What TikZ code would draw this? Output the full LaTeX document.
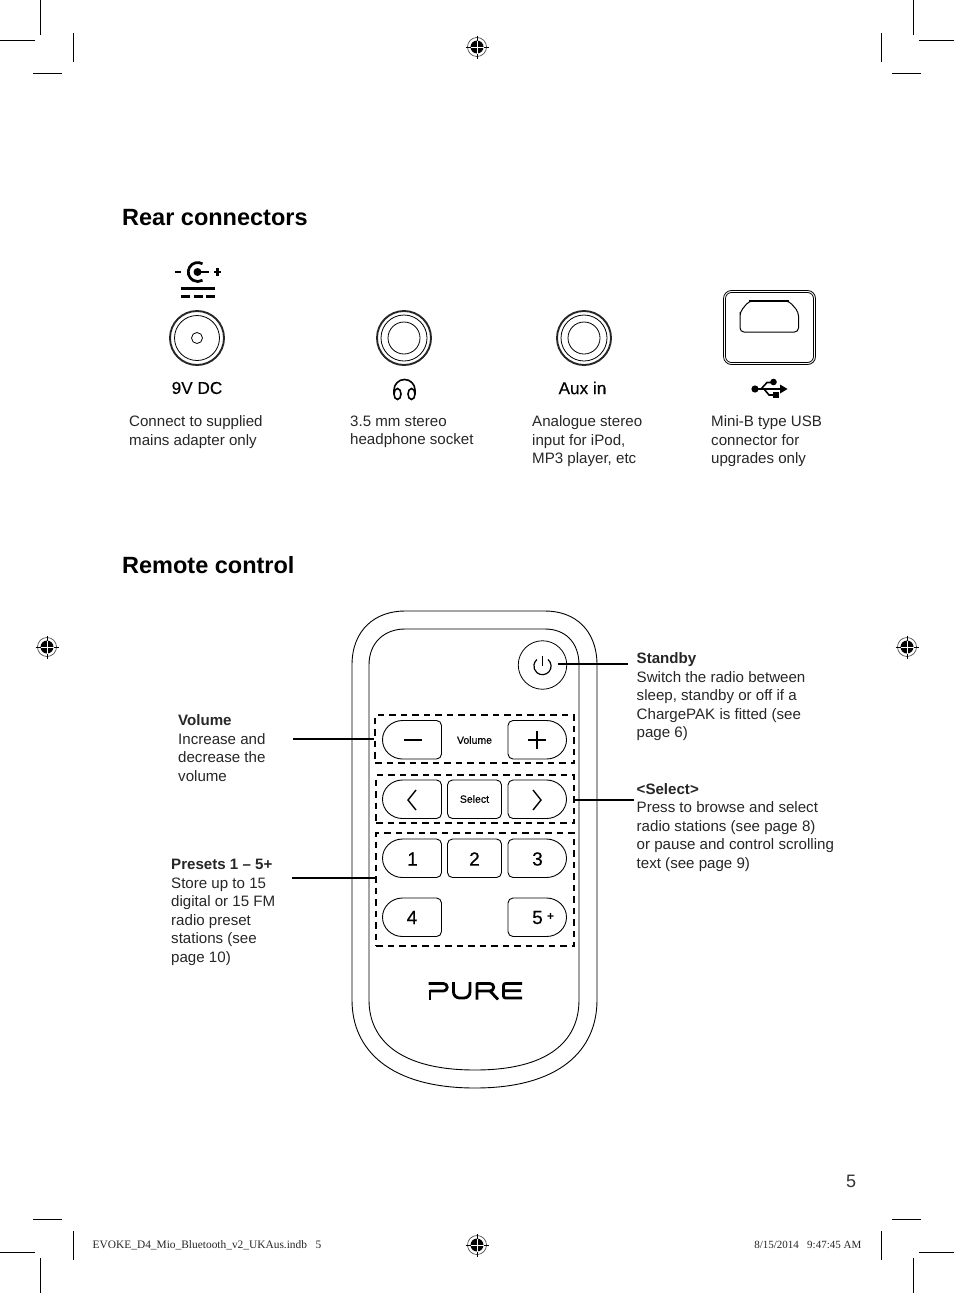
\documentclass[tikz,border=0pt]{standalone}
\usepackage{fontspec}
\setmainfont{Liberation Sans}
\newfontfamily\serifcrop{Liberation Serif}
\tikzset{
  crop/.style={line width=1pt,black},
  body/.style={anchor=north west,align=left,inner sep=0pt,font=\fontsize{15.1}{18.5}\selectfont,text=black!85},
  head/.style={anchor=base west,inner sep=0pt,font=\fontsize{23.5}{27}\selectfont\bfseries},
  iconlab/.style={anchor=center,inner sep=0pt,font=\fontsize{17.2}{20}\selectfont\addfontfeature{FakeBold=0.25}},
  slug/.style={inner sep=0pt,text=black!85},
  thinl/.style={line width=0.8pt},
  leader/.style={line width=2.8pt},
  dbox/.style={line width=1.4pt,dash pattern=on 6.5pt off 5pt},
  btn/.style={line width=0.9pt},
  btnlab/.style={inner sep=0pt,font=\fontsize{19}{20}\selectfont\addfontfeature{FakeBold=0.5}},
  btnsm/.style={inner sep=0pt,font=\fontsize{10.5}{12}\selectfont\addfontfeature{FakeBold=0.5}},
  logo/.style={line width=2.8pt,line cap=butt,line join=round},
  dcl/.style={line width=2.7pt},
  glyph/.style={line width=1.2pt},
  pics/regmark/.style={code={
    \draw[line width=0.7pt,black!70] (0,0) circle (9.5);
    \fill[black] (0,0) circle (6.5);
    \draw[line width=0.9pt,white] (-6.5,0)--(6.5,0) (0,-6.5)--(0,6.5);
    \draw[line width=0.8pt,black] (-11.5,0)--(-6.5,0) (6.5,0)--(11.5,0) (0,-11.5)--(0,-6.5) (0,6.5)--(0,11.5);
  }}
}
% y axis points down, so arc angles run clockwise on the page
\newcommand{\leftbtn}[4]{%
  \draw[btn] (#1+20,#3) -- (#2-5,#3) arc[start angle=-90,end angle=0,radius=5] -- (#2,#4-5)
     arc[start angle=0,end angle=90,radius=5] -- (#1+20,#4)
     arc[start angle=90,end angle=270,x radius=20,y radius=19.25] -- cycle;}
\newcommand{\rightbtn}[4]{%
  \draw[btn] (#1+5,#3) -- (#2-20,#3) arc[start angle=-90,end angle=90,x radius=20,y radius=19.25]
     -- (#1+5,#4) arc[start angle=90,end angle=180,radius=5] -- (#1,#3+5)
     arc[start angle=180,end angle=270,radius=5] -- cycle;}
\begin{document}
\begin{tikzpicture}[x=1pt,y=-1pt]
\useasboundingbox (0,0) rectangle (954,1293);
% crop marks
\draw[crop] (40.5,0)--(40.5,35) (0,40.5)--(35,40.5) (73.5,33)--(73.5,62) (33,73.5)--(62,73.5);
\draw[crop] (913.5,0)--(913.5,35) (954,40.5)--(919,40.5) (881.5,33)--(881.5,62) (921,73.5)--(892,73.5);
\draw[crop] (33,1219.5)--(62,1219.5) (73.5,1231)--(73.5,1260) (0,1252.5)--(35,1252.5) (40.5,1258)--(40.5,1293);
\draw[crop] (921,1219.5)--(892,1219.5) (881.5,1231)--(881.5,1260) (954,1252.5)--(919,1252.5) (913.5,1258)--(913.5,1293);
\pic at (477,47) {regmark};
\pic at (47,647) {regmark};
\pic at (907,647) {regmark};
\pic at (477,1245) {regmark};
% headings
\node[head] (h1) at (122,225) {Rear connectors};
\node[head] (h2) at (122,573) {Remote control};
% DC icon
\draw[dcl] (175,272)--(181,272) (214,272)--(221,272) (217.5,268)--(217.5,276);
\fill (197.5,272) circle (4);
\draw[dcl] (197.5,272)--(209,272);
\draw[dcl] (202.5,263.8) arc[start angle=-60,end angle=-300,radius=9.5];
\draw[line width=3pt] (181,288)--(215,288);
\draw[line width=3pt] (181,296)--(190,296) (193.5,296)--(203,296) (206,296)--(215,296);
% jacks
\draw[line width=1.9pt,black!85] (197,338) circle (27);
\draw[thinl] (197,338) circle (22.5);
\draw[thinl] (197,338) circle (5.5);
\node[iconlab] (l1) at (197,388) {9V DC};
\draw[line width=1.9pt,black!85] (404,338) circle (27);
\draw[thinl] (404,338) circle (23);
\draw[thinl] (404,338) circle (16);
\draw[line width=1.6pt] (394,394) -- (394,390) arc[start angle=180,end angle=360,radius=10.5] -- (415,394);
\draw[line width=1.6pt] (397.5,394) circle[x radius=3.5,y radius=5.5];
\draw[line width=1.6pt] (411.5,394) circle[x radius=3.5,y radius=5.5];
\draw[line width=1.9pt,black!85] (584,338) circle (27);
\draw[thinl] (584,338) circle (23);
\draw[thinl] (584,338) circle (16);
\node[iconlab] (l3) at (582.5,388) {Aux in};
% usb port
\draw[thinl,rounded corners=8pt] (723.5,290.5) rectangle (815.5,364.5);
\draw[thinl,rounded corners=6pt] (725.5,292.5) rectangle (813.5,362.5);
\draw[line width=1pt,rounded corners=4pt] (740,316) -- (740,312) -- (749,301) -- (789,301) -- (798.5,312) -- (798.5,332) -- (740,332) -- cycle;
\draw[line width=1.6pt] (749,301)--(789,301);
% usb icon
\fill (755,389) circle (3.6);
\draw[line width=1.8pt] (755,389)--(781,389);
\fill (780,384.5)--(787.5,389)--(780,393.5)--cycle;
\draw[line width=1.6pt] (761,389)--(767,382.5)--(773,382.5);
\fill (773.5,382) circle (3.3);
\draw[line width=1.6pt] (764,389)--(769,395)--(774,395);
\fill (773,392) rectangle (778.5,398);
% descriptions
\node[body] (d1) at (129,415.5) {Connect to supplied\\mains adapter only};
\node[body] (d2) at (350,415.5) {3.5 mm stereo\\headphone socket};
\node[body] (d3) at (532,415.5) {Analogue stereo\\input for iPod,\\MP3 player, etc};
\node[body] (d4) at (711,415.5) {Mini-B type USB\\connector for\\upgrades only};
% remote
\draw[line width=0.9pt] (352,665) .. controls (352,630) and (375,611) .. (405,611) -- (545,611)
  .. controls (575,611) and (597,630) .. (597,665) -- (597,1000)
  .. controls (597,1050) and (560,1088) .. (475,1088)
  .. controls (390,1088) and (352,1050) .. (352,1000) -- cycle;
\draw[line width=0.9pt] (369,665) .. controls (369,642) and (385,629) .. (405,629) -- (545,629)
  .. controls (565,629) and (579,642) .. (579,665) -- (579,1000)
  .. controls (579,1040) and (550,1070) .. (475,1070)
  .. controls (400,1070) and (369,1040) .. (369,1000) -- cycle;
% power
\node[circle,draw,line width=0.8pt,minimum size=48.5pt,inner sep=0pt] (pw) at (542.5,665) {};
\draw[glyph] (548,659.5) arc[start angle=-50,end angle=230,radius=8.6];
\draw[glyph] (542.5,655.5)--(542.5,666);
% dashed
\node[draw,dbox,inner sep=0pt,minimum width=199pt,minimum height=48pt] (bv) at (474.5,739) {};
\node[draw,dbox,inner sep=0pt,minimum width=198pt,minimum height=48pt] (bs) at (475,799) {};
\node[draw,dbox,inner sep=0pt,minimum width=198pt,minimum height=113pt] (bp) at (475,889.5) {};
% buttons
\leftbtn{382.5}{441.5}{720.5}{759}
\rightbtn{508}{566.5}{720.5}{759}
\leftbtn{382.5}{441.5}{780}{818.5}
\rightbtn{508}{566.5}{780}{818.5}
\draw[btn,rounded corners=5pt] (447.5,780) rectangle (501.5,818.5);
\leftbtn{382.5}{441.5}{839}{877.5}
\draw[btn,rounded corners=5pt] (447.5,839) rectangle (501.5,877.5);
\rightbtn{508}{566.5}{839}{877.5}
\leftbtn{382.5}{441.5}{898}{936.5}
\rightbtn{508}{566.5}{898}{936.5}
\draw[glyph] (403.5,740)--(421.5,740);
\draw[glyph] (528,740)--(546,740) (537,731)--(537,749);
\draw[line width=1.4pt] (416,790)--(408,800)--(416,810);
\draw[line width=1.4pt] (533,790)--(541,800)--(533,810);
\node[btnsm] (tv) at (474.5,740) {Volume};
\node[btnsm] (ts) at (474.5,799) {Select};
\node[btnlab] (n1) at (412.5,859) {1};
\node[btnlab] (n2) at (474.5,859) {2};
\node[btnlab] (n3) at (537.5,859) {3};
\node[btnlab] (n4) at (412,917.5) {4};
\node[btnlab] (n5) at (537.5,917.5) {5};
\node[inner sep=0pt,font=\fontsize{12}{14}\selectfont\bfseries] (np) at (550.5,917) {+};
% logo
\draw[logo] (428.5,983.5)--(443.5,983.5) arc[start angle=-90,end angle=90,radius=3.75] -- (430,991);
\draw[logo] (430,990)--(430,999.5);
\draw[logo] (453.5,982)--(453.5,992) arc[start angle=180,end angle=90,radius=6] -- (464,998) arc[start angle=90,end angle=0,radius=6] -- (470,982);
\draw[logo] (477,999.5)--(477,983.5)--(490,983.5) arc[start angle=-90,end angle=90,radius=3.75] --(477,991) (490,991)--(498,999.5);
\draw[logo,rounded corners=2pt] (522,983.5)--(503.5,983.5)--(503.5,998)--(522,998) (503.5,990.7)--(521,990.7);
% leaders
\draw[leader] (293,739)--(bv.west);
\coordinate (pl) at (292,878);
\draw[leader] (pl)--(bp.west |- pl);
\coordinate (sl0) at (558,664);
\coordinate (sr) at (628,664);
\draw[leader] (sl0)--(sr);
\coordinate (selr) at (634,800);
\draw[line width=1.5pt] (bs.east |- selr)--(selr);
% labels
\node[body] (lv) at (178,714.5) {\textbf{Volume}\\Increase and\\decrease the\\volume};
\node[body] (lp) at (171,859) {\textbf{Presets 1 – 5+}\\Store up to 15\\digital or 15 FM\\radio preset\\stations (see\\page 10)};
\node[body] (lt) at (636.5,652.5) {\textbf{Standby}\\Switch the radio between\\sleep, standby or off if a\\ChargePAK is fitted (see\\page 6)};
\node[body] (le) at (636.5,783) {\textbf{<Select>}\\Press to browse and select\\radio stations (see page 8)\\or pause and control scrolling\\text (see page 9)};
\node[inner sep=0pt,font=\fontsize{18}{20}\selectfont,text=black!80] (pg) at (851,1181) {5};
\node[slug,anchor=west,font=\fontsize{11.4}{13}\serifcrop] (sl) at (92.5,1245) {EVOKE\_D4\_Mio\_Bluetooth\_v2\_UKAus.indb\ \ \ 5};
\node[slug,anchor=east,font=\fontsize{11}{13}\serifcrop] (sr2) at (861.5,1245) {8/15/2014\ \ \ 9:47:45 AM};
\end{tikzpicture}
\end{document}
